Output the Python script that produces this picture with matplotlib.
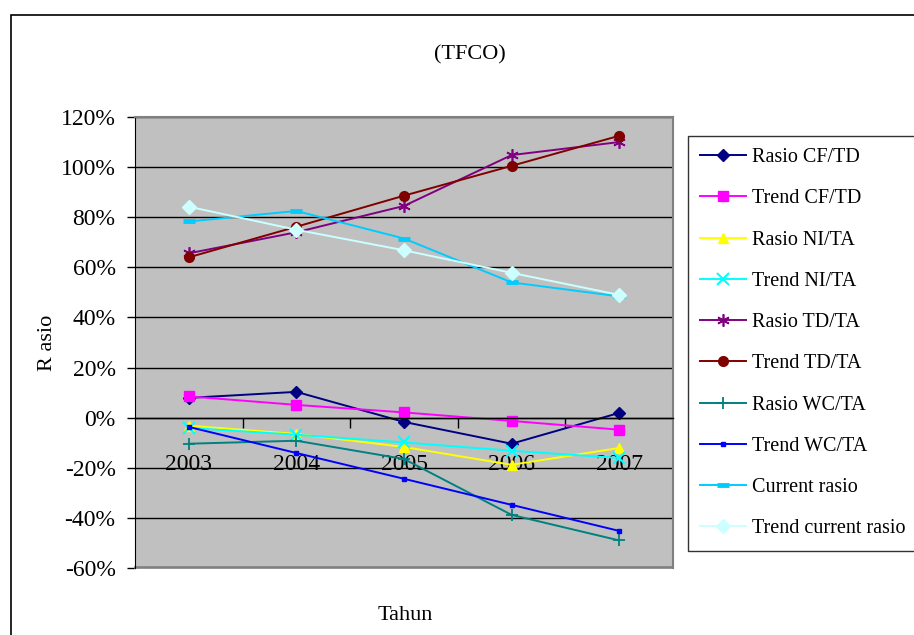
import matplotlib.pyplot as plt
from matplotlib.patches import Rectangle
from matplotlib.ticker import FuncFormatter, FixedLocator

plt.rcParams['font.family'] = ['Liberation Serif', 'DejaVu Serif']
plt.rcParams['axes.unicode_minus'] = False

# Data (in %)
tahun = ['2003', '2004', '2005', '2006', '2007']
rasio_cf_td = [7.9, 10.3, -1.7, -10.4, 1.9]
trend_cf_td = [8.5, 5.1, 2.1, -1.3, -4.8]
rasio_ni_ta = [-3.2, -6.5, -11.7, -18.8, -12.1]
trend_ni_ta = [-4.1, -6.8, -9.9, -13.2, -16.1]
rasio_td_ta = [65.6, 74.0, 84.5, 104.8, 110.0]
trend_td_ta = [64.0, 76.2, 88.6, 100.5, 112.5]
rasio_wc_ta = [-10.4, -9.2, -16.5, -38.8, -49.0]
trend_wc_ta = [-3.7, -14.1, -24.4, -34.8, -45.2]
current_rasio = [78.3, 82.5, 71.5, 54.0, 48.4]
trend_current_rasio = [84.2, 75.0, 66.8, 57.8, 49.0]

W, H = 914, 635
fig = plt.figure(figsize=(W / 100, H / 100), dpi=100)

# outer chart frame (clipped at right and bottom)
fig.patches.append(Rectangle((11 / W, -0.1), 1.2, 1 - 15 / H + 0.1,
                             transform=fig.transFigure, fill=False,
                             edgecolor='black', linewidth=1.2))

ax = fig.add_axes([135 / W, 1 - 568 / H, (673 - 135) / W, (568 - 117) / H])
ax.set_facecolor('#C0C0C0')

x = list(range(len(tahun)))
series = [
    ('Rasio CF/TD', rasio_cf_td, '#000080', 'D', 6, {}),
    ('Trend CF/TD', trend_cf_td, '#FF00FF', 's', 7, {}),
    ('Rasio NI/TA', rasio_ni_ta, '#FFFF00', '^', 7, {}),
    ('Trend NI/TA', trend_ni_ta, '#00FFFF', 'x', 8, {'markeredgewidth': 1.5}),
    ('Rasio TD/TA', rasio_td_ta, '#800080', (6, 2, 0), 9, {'markeredgewidth': 1.2}),
    ('Trend TD/TA', trend_td_ta, '#800000', 'o', 7, {}),
    ('Rasio WC/TA', rasio_wc_ta, '#008080', '+', 9, {'markeredgewidth': 1.3}),
    ('Trend WC/TA', trend_wc_ta, '#0000FF', 's', 3.5, {}),
    ('Current rasio', current_rasio, '#00CCFF', '_', 9, {'markeredgewidth': 3.5}),
    ('Trend current rasio', trend_current_rasio, '#CCFFFF', 'D', 7, {}),
]
for label, vals, col, mk, ms, kw in series:
    ax.plot(x, vals, color=col, marker=mk, markersize=ms, linewidth=1.4,
            markerfacecolor=col, markeredgecolor=col, label=label, **kw)

ax.set_xlim(-0.5, 4.5)
ax.set_ylim(-60, 120)
ax.set_yticks(range(-60, 121, 20))
ax.yaxis.set_major_formatter(FuncFormatter(lambda v, p: f'{v:.0f}%'))
ax.yaxis.grid(True, color='black', linewidth=1.0)
ax.set_axisbelow(True)

# category axis crossing at 0
ax.spines['bottom'].set_position(('data', 0))
ax.spines['bottom'].set_color('black')
ax.spines['bottom'].set_linewidth(1.0)
for s in ['top', 'right']:
    ax.spines[s].set_color('#808080')
    ax.spines[s].set_linewidth(1.5)
ax.spines['left'].set_color('black')
# grey bottom border of plot area
ax.add_patch(Rectangle((0, 0), 1, 0.002, transform=ax.transAxes,
                       facecolor='#808080', edgecolor='#808080',
                       linewidth=1.2, clip_on=False))

ax.set_xticks(x)
ax.set_xticklabels(tahun)
ax.tick_params(axis='x', which='major', length=0, pad=26, labelsize=17)
ax.xaxis.set_minor_locator(FixedLocator([0.5, 1.5, 2.5, 3.5]))
ax.tick_params(axis='x', which='minor', length=7, width=1, direction='out')
ax.tick_params(axis='y', length=6, width=1, direction='out', pad=8, labelsize=17)

fig.text(470 / W, 1 - 55 / H, '(TFCO)', ha='center', va='center', fontsize=16)
fig.text(405 / W, 1 - 615 / H, 'Tahun', ha='center', va='center', fontsize=16)
fig.text(48 / W, 1 - 343 / H, 'R asio', ha='center', va='center', fontsize=16,
         rotation=90)

leg = fig.legend(loc='upper left', bbox_to_anchor=(688 / W, 1 - 136 / H),
                 fontsize=14.5, frameon=True, fancybox=False, handlelength=2.3,
                 labelspacing=1.1, borderpad=0.6, handletextpad=0.3,
                 borderaxespad=0)
leg.get_frame().set_edgecolor('black')
leg.get_frame().set_linewidth(1.0)

fig.savefig('out.png', dpi=100)
